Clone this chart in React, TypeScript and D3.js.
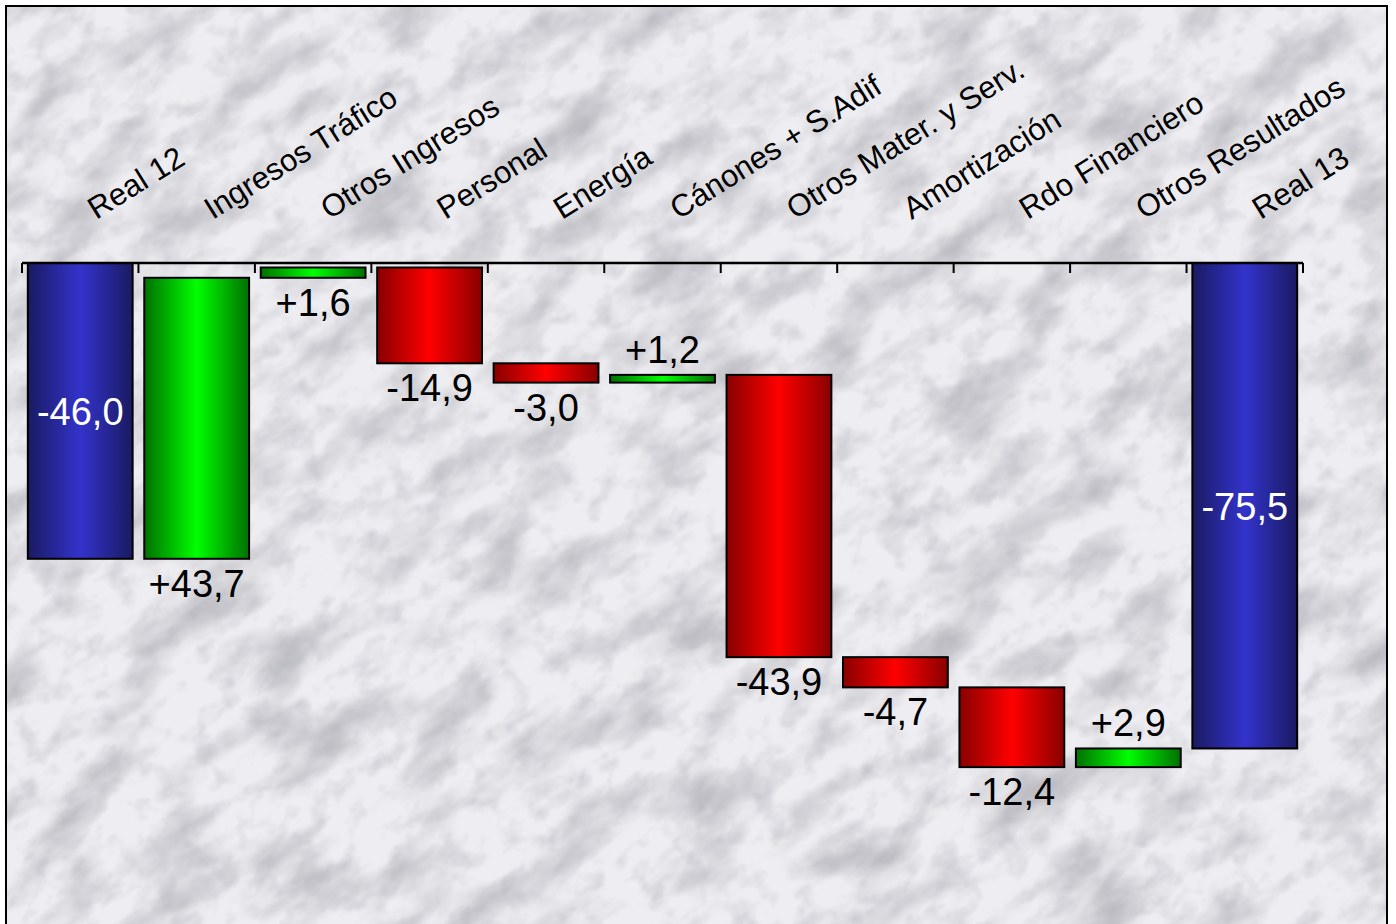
import React from 'react';
import * as d3 from 'd3';

const categories = [
  'Real 12',
  'Ingresos Tráfico',
  'Otros Ingresos',
  'Personal',
  'Energía',
  'Cánones + S.Adif',
  'Otros Mater. y Serv.',
  'Amortización',
  'Rdo Financiero',
  'Otros Resultados',
  'Real 13',
];
const values = [-46.0, 43.7, 1.6, -14.9, -3.0, 1.2, -43.9, -4.7, -12.4, 2.9, -75.5];
const kinds = ['total', 'delta', 'delta', 'delta', 'delta', 'delta', 'delta', 'delta', 'delta', 'delta', 'total'];
const labelSides = ['inside', 'below', 'below', 'below', 'below', 'above', 'below', 'below', 'below', 'above', 'inside'];
const yDomain = [0, -80];

const W = 1396;
const H = 924;

function fmt(v: number, kind: string) {
  const s = Math.abs(v).toFixed(1).replace('.', ',');
  if (v < 0) return '-' + s;
  return (kind === 'delta' ? '+' : '') + s;
}

export default function App() {
  const x = d3.scaleBand<string>().domain(categories).range([22, 1303]).padding(0);
  const y = d3.scaleLinear().domain(yDomain).range([263, 263 + 80 * 6.43]);
  const bw = x.bandwidth();

  let running = 0;
  const bars = categories.map((c, i) => {
    const v = values[i];
    let start: number, end: number;
    if (kinds[i] === 'total') {
      start = 0;
      end = v;
      running = v;
    } else {
      start = running;
      end = running + v;
      running = end;
    }
    const top = y(Math.max(start, end));
    const bottom = y(Math.min(start, end));
    const fill = kinds[i] === 'total' ? 'url(#gBlue)' : v >= 0 ? 'url(#gGreen)' : 'url(#gRed)';
    return { c, v, top, bottom, fill, i };
  });

  const font = '"Liberation Sans", Arial, sans-serif';

  return (
    <svg width={W} height={H} style={{ position: 'absolute', left: 0, top: 0, background: '#fff' }}>
      <defs>
        <linearGradient id="gBlue" x1="0" x2="1" y1="0" y2="0">
          <stop offset="0" stopColor="#1a1a62" />
          <stop offset="0.5" stopColor="#3333cc" />
          <stop offset="1" stopColor="#1a1a62" />
        </linearGradient>
        <linearGradient id="gGreen" x1="0" x2="1" y1="0" y2="0">
          <stop offset="0" stopColor="#007000" />
          <stop offset="0.5" stopColor="#00ff00" />
          <stop offset="1" stopColor="#007000" />
        </linearGradient>
        <linearGradient id="gRed" x1="0" x2="1" y1="0" y2="0">
          <stop offset="0" stopColor="#880000" />
          <stop offset="0.5" stopColor="#ff0000" />
          <stop offset="1" stopColor="#880000" />
        </linearGradient>
        <filter id="marble" filterUnits="userSpaceOnUse" x="-800" y="-800" width="3000" height="2600">
          <feTurbulence type="fractalNoise" baseFrequency="0.011 0.022" numOctaves="5" seed="11" result="n" />
          <feColorMatrix
            in="n"
            type="matrix"
            values="0 0 0 0 0.42  0 0 0 0 0.42  0 0 0 0 0.46  -2.4 0 0 0 1.35"
            result="a"
          />
          <feGaussianBlur in="a" stdDeviation="1" />
        </filter>
        <filter id="marble2" filterUnits="userSpaceOnUse" x="-800" y="-800" width="3000" height="2600">
          <feTurbulence type="fractalNoise" baseFrequency="0.035 0.045" numOctaves="3" seed="4" result="n" />
          <feColorMatrix
            in="n"
            type="matrix"
            values="0 0 0 0 0.45  0 0 0 0 0.45  0 0 0 0 0.5  -2.6 0 0 0 1.3"
          />
        </filter>
        <clipPath id="frame">
          <rect x={6} y={6} width={1381} height={940} />
        </clipPath>
      </defs>

      <g clipPath="url(#frame)">
        <rect x={6} y={6} width={1381} height={940} fill="#eeeef2" />
        <g transform="rotate(-35 700 460)">
          <rect x={-600} y={-600} width={2600} height={2200} filter="url(#marble)" opacity={0.75} />
          <rect x={-600} y={-600} width={2600} height={2200} filter="url(#marble2)" opacity={0.45} />
        </g>
      </g>
      <rect x={6} y={6} width={1381} height={940} fill="none" stroke="#000" strokeWidth={2} />

      {/* bars */}
      {bars.map((b) => (
        <rect
          key={b.c}
          x={(x(b.c) as number) + bw * 0.05}
          y={b.top}
          width={bw * 0.9}
          height={b.bottom - b.top}
          fill={b.fill}
          stroke="#000"
          strokeWidth={2}
        />
      ))}

      {/* axis */}
      <line x1={22} x2={1303} y1={y(0)} y2={y(0)} stroke="#000" strokeWidth={2.5} />
      {categories.map((c) => (
        <line key={'t' + c} x1={x(c) as number} x2={x(c) as number} y1={y(0)} y2={y(0) + 10} stroke="#000" strokeWidth={2} />
      ))}
      <line x1={1303} x2={1303} y1={y(0)} y2={y(0) + 10} stroke="#000" strokeWidth={2} />

      {/* category labels */}
      {categories.map((c) => {
        const cx = (x(c) as number) + bw / 2 + 16;
        const cy = 220;
        return (
          <text
            key={'l' + c}
            x={cx}
            y={cy}
            transform={`rotate(-32 ${cx} ${cy})`}
            fontFamily={font}
            fontSize={31}
            fill="#000"
          >
            {c}
          </text>
        );
      })}

      {/* value labels */}
      {bars.map((b) => {
        const cx = (x(b.c) as number) + bw / 2;
        const side = labelSides[b.i];
        let ty: number;
        let color = '#000';
        if (side === 'inside') {
          ty = (b.top + b.bottom) / 2 + 14;
          color = '#fff';
        } else if (side === 'below') {
          ty = b.bottom + 38;
        } else {
          ty = b.top - 12;
        }
        return (
          <text
            key={'v' + b.c}
            x={cx}
            y={ty}
            textAnchor="middle"
            fontFamily={font}
            fontSize={38}
            fill={color}
          >
            {fmt(b.v, kinds[b.i])}
          </text>
        );
      })}
    </svg>
  );
}
